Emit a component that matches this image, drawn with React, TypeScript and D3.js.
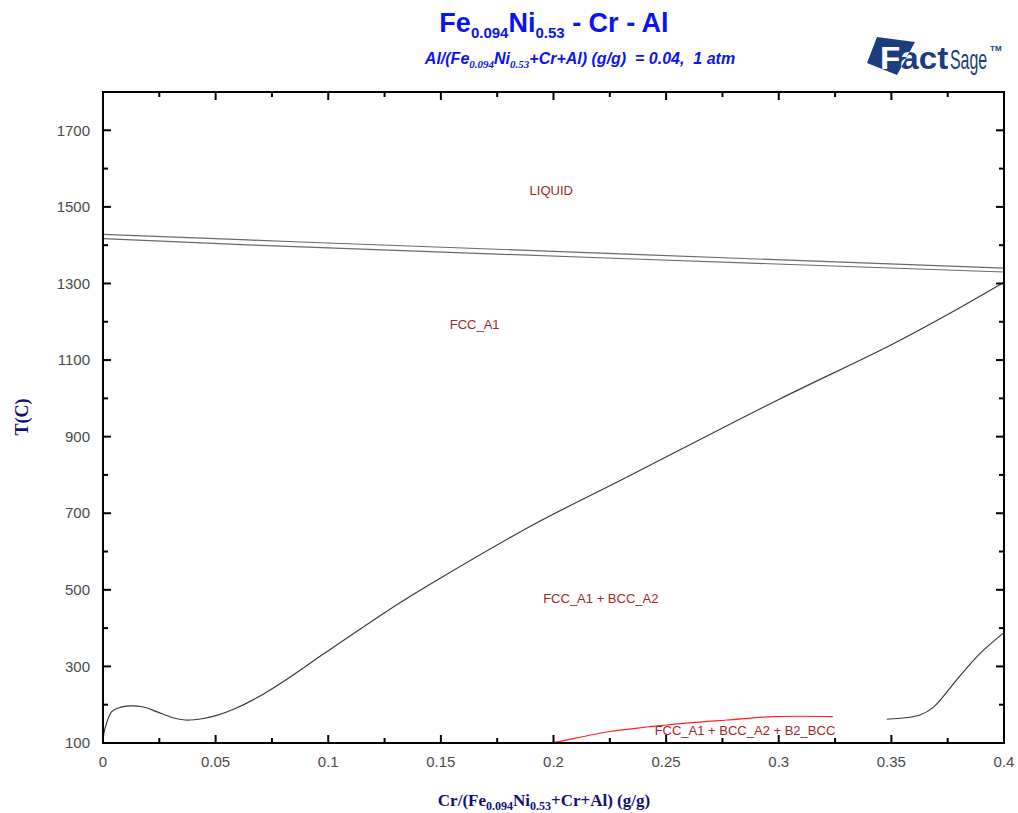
import React from 'react';
import * as d3 from 'd3';

// phase boundaries (x = Cr mass fraction, T in C)
const liqUpperX = [0, 0.085, 0.4];
const liqUpperT = [1428, 1409, 1340];
const liqLowerX = [0, 0.085, 0.4];
const liqLowerT = [1417, 1396, 1330];

const solvusX = [0, 0.0004, 0.0016, 0.0039, 0.0076, 0.012, 0.0179, 0.0238, 0.031, 0.0364, 0.0446, 0.0505, 0.058, 0.0683, 0.083, 0.098, 0.132, 0.151, 0.191, 0.2305, 0.3, 0.35, 0.379, 0.4];
const solvusT = [100, 125, 152, 182, 193, 197, 194, 182, 166, 160, 164, 172, 188, 218, 272, 333, 467, 535, 670, 788, 997, 1140, 1232, 1303];

const b2X = [0.198, 0.2, 0.225, 0.25, 0.277, 0.298, 0.324];
const b2T = [100, 101, 130, 147, 160, 169, 169];

const rightX = [0.348, 0.3627, 0.3686, 0.373, 0.379, 0.3894, 0.3997];
const rightT = [162, 173, 193, 221, 265, 334, 387];

const xMajor = [0, 0.05, 0.1, 0.15, 0.2, 0.25, 0.3, 0.35, 0.4];
const xMinor = [0.025, 0.075, 0.125, 0.175, 0.225, 0.275, 0.325, 0.375];
const yMajor = [100, 300, 500, 700, 900, 1100, 1300, 1500, 1700];
const yMinor = [200, 400, 600, 800, 1000, 1200, 1400, 1600];

const regionNames = ['LIQUID', 'FCC_A1', 'FCC_A1 + BCC_A2', 'FCC_A1 + BCC_A2 + B2_BCC'];
const regionX = [0.199, 0.165, 0.221, 0.285];
const regionT = [1540, 1190, 475, 130];

const W = 1018;
const H = 813;

export default function App() {
  const x = d3.scaleLinear().domain([0, 0.4]).range([103, 1004]);
  const y = d3.scaleLinear().domain([100, 1800]).range([743, 92]);

  const line = (xs: number[], ts: number[]) =>
    d3
      .line<number>()
      .x((d, i) => x(xs[i]))
      .y((d) => y(d))
      .curve(d3.curveCatmullRom.alpha(0.5))(ts) || '';

  const left = x(0), right = x(0.4), top = y(1800), bottom = y(100);
  const tickFont = 'Arial, "Liberation Sans", sans-serif';
  const serif = "'Times New Roman', 'Liberation Serif', serif";
  const fmt = (v: number) => String(+v.toFixed(3));

  return (
    <svg width={W} height={H} style={{ position: 'absolute', left: 0, top: 0, background: '#fff' }}>
      <defs>
        <clipPath id="logoClip">
          <polygon points="877,37 915,42 897,75 867,63" />
        </clipPath>
      </defs>

      {/* title */}
      <text x={554} y={32} textAnchor="middle" fill="#0a14f0" fontFamily={tickFont} fontWeight="bold" fontSize={27}>
        Fe<tspan fontSize={15} dy={6}>0.094</tspan>
        <tspan dy={-6}>Ni</tspan>
        <tspan fontSize={15} dy={6}>0.53</tspan>
        <tspan dy={-6}> - Cr - Al</tspan>
      </text>
      <text x={580} y={64} textAnchor="middle" fill="#0a14f0" fontFamily={tickFont} fontWeight="bold" fontStyle="italic" fontSize={16} style={{ whiteSpace: 'pre' }}>
        Al/(Fe<tspan fontFamily={serif} fontSize={11} dy={4}>0.094</tspan>
        <tspan dy={-4}>Ni</tspan>
        <tspan fontFamily={serif} fontSize={11} dy={4}>0.53</tspan>
        <tspan dy={-4}>{'+Cr+Al) (g/g)  = 0.04,  1 atm'}</tspan>
      </text>

      {/* FactSage logo */}
      <g fontFamily={tickFont} fontWeight="bold">
        <polygon points="877,37 915,42 897,75 867,63" fill="#1b3c7d" />
        <text transform="translate(880,69) scale(1.07,1)" fontSize={31} fill="#1b3c7d">Fact</text>
        <g clipPath="url(#logoClip)">
          <text transform="translate(880,69) scale(1.07,1)" fontSize={31} fill="#fff">Fact</text>
        </g>
        <text transform="translate(950,69) scale(0.59,1)" fontSize={27} fontWeight="normal" fill="#1b3c7d">Sage</text>
        <text x={990} y={51} fontSize={8} fill="#1b3c7d">TM</text>
      </g>

      {/* curves */}
      <g fill="none" strokeWidth={1.2}>
        <path d={line(liqUpperX, liqUpperT)} stroke="#6a6a6a" />
        <path d={line(liqLowerX, liqLowerT)} stroke="#6a6a6a" />
        <path d={line(solvusX, solvusT)} stroke="#3a3a3a" />
        <path d={line(rightX, rightT)} stroke="#3a3a3a" />
        <path d={line(b2X, b2T)} stroke="#ff2020" />
      </g>

      {/* region labels */}
      {regionNames.map((n, i) => (
        <text key={n} x={x(regionX[i])} y={y(regionT[i])} textAnchor="middle" dominantBaseline="middle" fill="#a02828" fontFamily={tickFont} fontSize={13}>
          {n}
        </text>
      ))}

      {/* frame and ticks */}
      <g stroke="#000" strokeWidth={2}>
        <rect x={left} y={top} width={right - left} height={bottom - top} fill="none" />
        {xMajor.map((v) => (
          <g key={'xM' + v}>
            <line x1={x(v)} x2={x(v)} y1={bottom} y2={bottom - 8} />
            <line x1={x(v)} x2={x(v)} y1={top} y2={top + 8} />
          </g>
        ))}
        {xMinor.map((v) => (
          <g key={'xm' + v}>
            <line x1={x(v)} x2={x(v)} y1={bottom} y2={bottom - 5} />
            <line x1={x(v)} x2={x(v)} y1={top} y2={top + 5} />
          </g>
        ))}
        {yMajor.map((v) => (
          <g key={'yM' + v}>
            <line x1={left} x2={left + 8} y1={y(v)} y2={y(v)} />
            <line x1={right} x2={right - 8} y1={y(v)} y2={y(v)} />
          </g>
        ))}
        {yMinor.map((v) => (
          <g key={'ym' + v}>
            <line x1={left} x2={left + 5} y1={y(v)} y2={y(v)} />
            <line x1={right} x2={right - 5} y1={y(v)} y2={y(v)} />
          </g>
        ))}
      </g>

      {/* tick labels */}
      <g fill="#4a4a4a" fontFamily={tickFont} fontSize={15}>
        {xMajor.map((v) => (
          <text key={'xl' + v} x={x(v)} y={767} textAnchor="middle">{fmt(v)}</text>
        ))}
        {yMajor.map((v) => (
          <text key={'yl' + v} x={90} y={y(v)} dy="0.35em" textAnchor="end">{v}</text>
        ))}
      </g>

      {/* axis titles */}
      <text x={544} y={806} textAnchor="middle" fill="#10107a" fontFamily={serif} fontWeight="bold" fontSize={17}>
        Cr/(Fe<tspan fontSize={12} dy={4}>0.094</tspan>
        <tspan dy={-4}>Ni</tspan>
        <tspan fontSize={12} dy={4}>0.53</tspan>
        <tspan dy={-4}>+Cr+Al) (g/g)</tspan>
      </text>
      <text transform="translate(28,417) rotate(-90)" textAnchor="middle" fill="#10107a" fontFamily={serif} fontWeight="bold" fontSize={18}>
        T(C)
      </text>
    </svg>
  );
}
